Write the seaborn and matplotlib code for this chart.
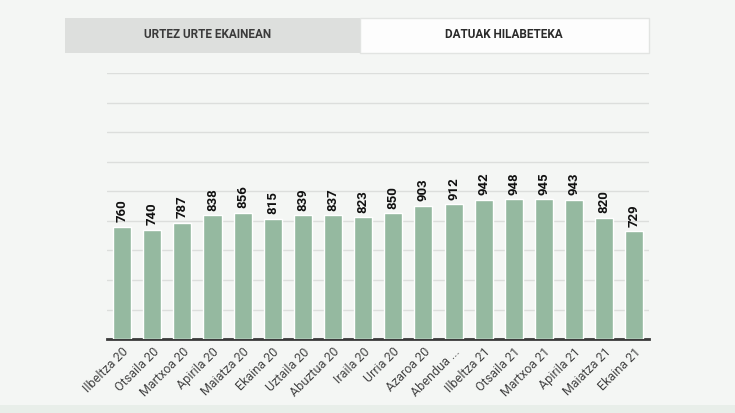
import matplotlib.pyplot as plt
import seaborn as sns
import pandas as pd
from matplotlib.patches import Rectangle

months = ["Ilbeltza 20", "Otsaila 20", "Martxoa 20", "Apirila 20", "Maiatza 20",
          "Ekaina 20", "Uztaila 20", "Abuztua 20", "Iraila 20", "Urria 20",
          "Azaroa 20", "Abendua ...", "Ilbeltza 21", "Otsaila 21", "Martxoa 21",
          "Apirila 21", "Maiatza 21", "Ekaina 21"]
values = [760, 740, 787, 838, 856, 815, 839, 837, 823, 850,
          903, 912, 942, 948, 945, 943, 820, 729]
tabs = ["URTEZ URTE EKAINEAN", "DATUAK HILABETEKA"]

df = pd.DataFrame({"month": months, "value": values})

bg = "#f4f6f4"
sns.set_style("white")
plt.rcParams['font.family'] = ['Roboto', 'DejaVu Sans']

fig = plt.figure(figsize=(7.35, 4.13), dpi=100, facecolor=bg)
ax = fig.add_axes([0.1456, 0.179, 0.738, 0.644])
ax.set_facecolor(bg)

sns.barplot(data=df, x="month", y="value", color="#95b9a0", width=0.6,
            saturation=1, ax=ax, zorder=3)

ax.set_ylim(0, 1800)
ax.set_xlim(-0.5, 17.5)
ax.set_yticks(range(0, 1801, 200))
ax.yaxis.grid(True, color="#dcdedc", linewidth=1, zorder=0)
ax.tick_params(axis="y", left=False, labelleft=False)
ax.tick_params(axis="x", bottom=False, pad=1)
for side in ["top", "right", "left"]:
    ax.spines[side].set_visible(False)
ax.spines["bottom"].set_color("#3a3a3a")
ax.spines["bottom"].set_linewidth(2)
ax.set_xlabel("")
ax.set_ylabel("")

ax.set_xticks(range(len(months)))
ax.set_xticklabels(months, rotation=45, ha="right", rotation_mode="anchor",
                   fontsize=9, color="#444444")

for i, v in enumerate(values):
    ax.text(i, v + 30, str(v), rotation=90, ha="center", va="bottom",
            fontsize=9.5, fontweight="bold", color="#111111")

# tabs on top
fig.patches.append(Rectangle((65 / 735, 1 - 53 / 413), 295 / 735, 35 / 413,
                             transform=fig.transFigure, facecolor="#dddfdd",
                             edgecolor="none"))
fig.patches.append(Rectangle((360 / 735, 1 - 53 / 413), 289 / 735, 35 / 413,
                             transform=fig.transFigure, facecolor="#fdfdfd",
                             edgecolor="#e2e4e2", linewidth=1))
fig.text(208 / 735, 1 - 35 / 413, tabs[0], ha="center", va="center",
         fontsize=8.5, fontweight="bold", color="#3a3a3a")
fig.text(504 / 735, 1 - 35 / 413, tabs[1], ha="center", va="center",
         fontsize=8.5, fontweight="bold", color="#2a2a2a")

# bottom band
fig.patches.append(Rectangle((0, 0), 1, 8 / 413, transform=fig.transFigure,
                             facecolor="#e8eee9", edgecolor="none"))

fig.savefig("out.png", dpi=100, facecolor=bg)
